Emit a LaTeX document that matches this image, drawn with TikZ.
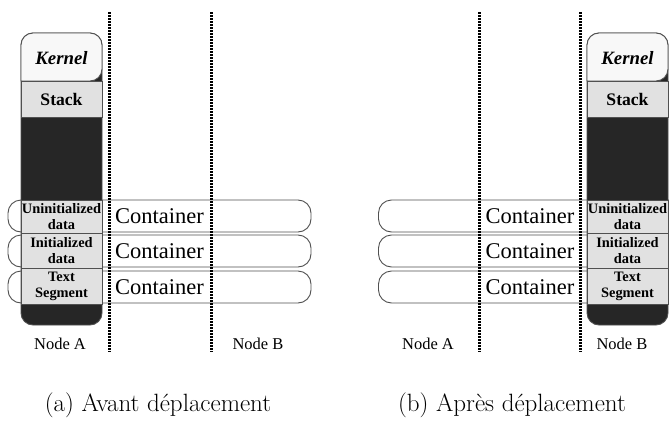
\documentclass[tikz,border=0pt]{standalone}
\usepackage{fontspec}
\newfontfamily\timesfont{Liberation Serif}
\definecolor{segdark}{HTML}{262626}
\definecolor{seglight}{HTML}{E1E1E1}
\definecolor{segwhite}{HTML}{F8F8F8}
\definecolor{segedge}{HTML}{505050}
\tikzset{
  colbody/.style={draw=segedge, line width=0.9pt, fill=segdark, rounded corners=12pt},
  kernbox/.style={draw=segedge, line width=0.9pt, fill=segwhite},
  kernlabel/.style={inner sep=0pt, font=\timesfont\bfseries\itshape\fontsize{18.8}{20}\selectfont},
  segbox/.style={draw=segedge, line width=0.9pt, fill=seglight, minimum width=81pt,
    inner sep=0pt, align=center, font=\timesfont\bfseries\fontsize{14.4}{16}\selectfont},
  stackbox/.style={segbox, minimum height=36pt, font=\timesfont\bfseries\fontsize{17.6}{18}\selectfont},
  container/.style={draw=segedge, line width=0.9pt, fill=white, rounded corners=13pt,
    minimum width=303pt, minimum height=32pt, inner sep=0pt,
    font=\timesfont\fontsize{22.5}{24}\selectfont},
  divider/.style={line width=3pt, dash pattern=on 1.8pt off 1.2pt},
  hostlabel/.style={font=\timesfont\fontsize{16.5}{18}\selectfont},
  caption/.style={anchor=base, font=\fontsize{25}{28}\selectfont}
}
\begin{document}
\begin{tikzpicture}[x=1pt, y=-1pt]
  \useasboundingbox (0,0) rectangle (669,423);
  % containers, behind the columns
  \draw
    (159.5,216) node[container] (ca1){Container}
    (159.5,251) node[container] (ca2){Container}
    (159.5,287) node[container] (ca3){Container}
    (530,216) node[container] (cb1){Container}
    (530,251) node[container] (cb2){Container}
    (530,287) node[container] (cb3){Container};
  % memory columns
  \foreach \side/\cx in {a/61.5, b/627.5} {
    \draw[colbody] (\cx-40.5,33) rectangle (\cx+40.5,325);
    \draw[kernbox] (\cx-40.5,81) [rounded corners=12pt] |- (\cx+40.5,33)
      -- (\cx+40.5,81) [sharp corners] -- cycle;
    \node[kernlabel] (kern\side) at (\cx,58) {Kernel};
    \node[stackbox] (stack\side) at (\cx,99) {Stack};
    \node[segbox, minimum height=33pt] (bss\side) at (\cx,216.5) {Uninitialized\\data};
    \node[segbox, minimum height=35pt] (data\side) at (\cx,250.5) {Initialized\\data};
    \node[segbox, minimum height=36pt] (text\side) at (\cx,286) {Text\\Segment};
  }
  % node boundaries
  \draw[divider] (109,12) -- (109,352);
  \draw[divider] (211,12) -- (211,352);
  \draw[divider] (479,12) -- (479,352);
  \draw[divider] (580,12) -- (580,352);
  \draw
    (60,344) node[hostlabel] (hostaa){Node A}
    (258,344) node[hostlabel] (hostab){Node B}
    (428,344) node[hostlabel] (hostba){Node A}
    (622,344) node[hostlabel] (hostbb){Node B};
  \node[caption] (capa) at (158,411) {(a) Avant déplacement};
  \node[caption] (capb) at (512,411) {(b) Après déplacement};
\end{tikzpicture}
\end{document}
